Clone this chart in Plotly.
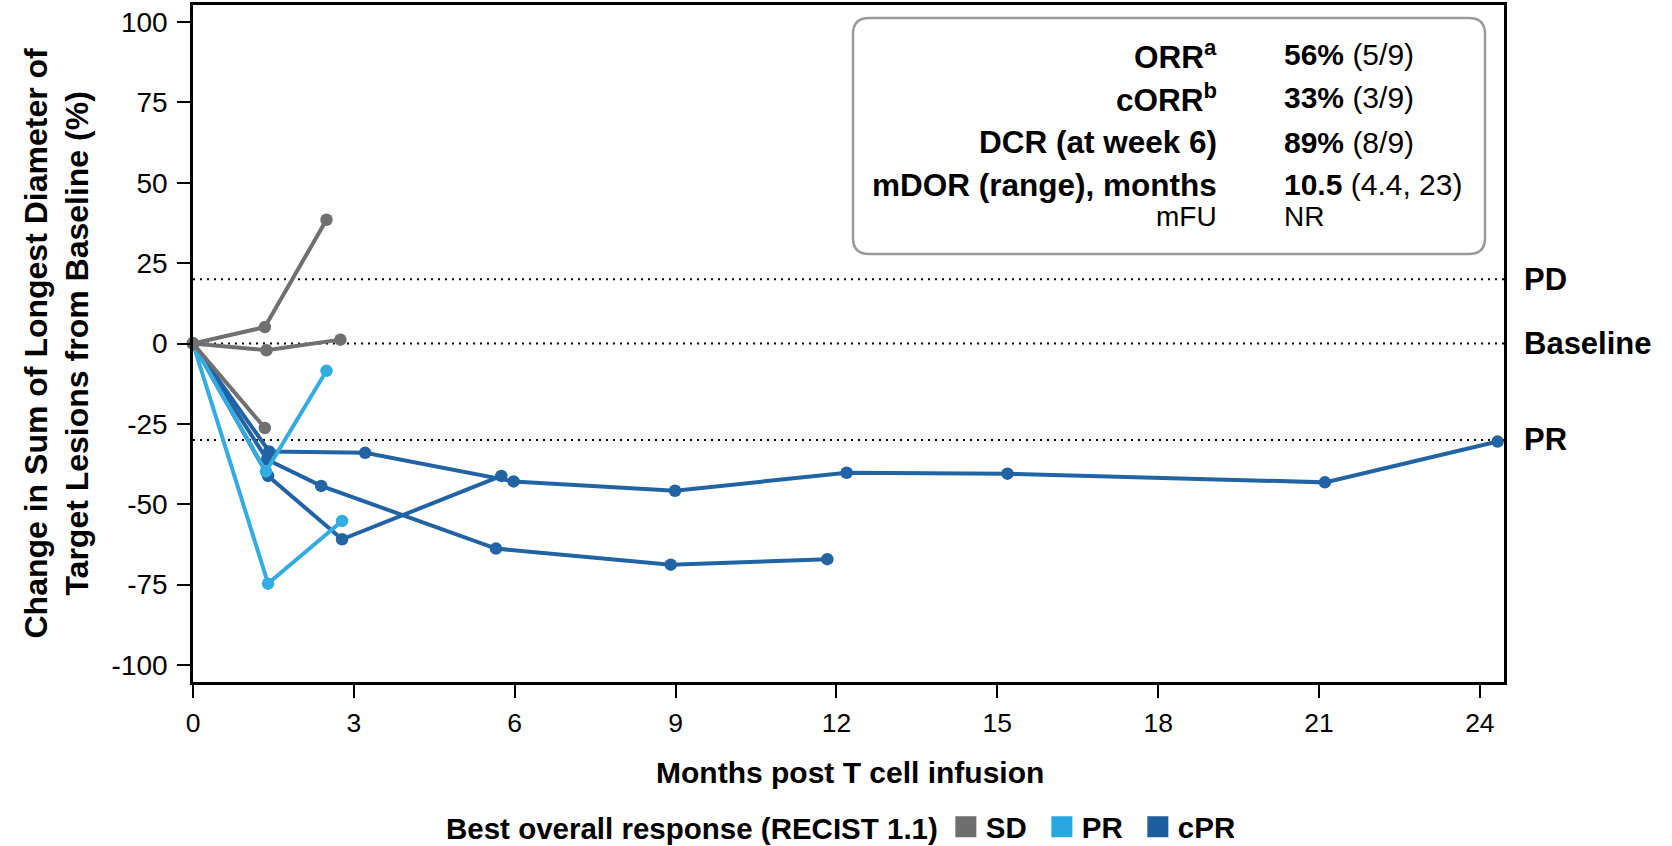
import plotly.graph_objects as go

# ---------------- data ----------------
sd_x = [[0, 1.34, 2.49], [0, 1.37, 2.75], [0, 1.34]]
sd_y = [[0, 5.1, 38.5], [0, -2.1, 1.2], [0, -26.3]]

pr_x = [[0, 1.36, 2.49], [0, 1.40, 2.78]]
pr_y = [[0, -39.8, -8.5], [0, -74.7, -55.2]]

cpr_x = [[0, 1.42, 3.21, 5.98, 8.99, 12.19, 15.19, 21.11, 24.33],
         [0, 1.40, 2.78, 5.75],
         [0, 1.38, 2.39, 5.65, 8.91, 11.83]]
cpr_y = [[0, -33.6, -34.0, -42.9, -45.8, -40.2, -40.5, -43.2, -30.5],
         [0, -41.2, -60.9, -41.2],
         [0, -36.1, -44.3, -63.8, -68.8, -67.1]]

x_ticks = [0, 3, 6, 9, 12, 15, 18, 21, 24]
y_ticks = [100, 75, 50, 25, 0, -25, -50, -75, -100]

ref_values = [20, 0, -30]
ref_labels = ["PD", "Baseline", "PR"]

groups = ["SD", "PR", "cPR"]
group_colors = {"SD": "#707070", "PR": "#33ace1", "cPR": "#2163a3"}
legend_colors = {"SD": "#6e6e6e", "PR": "#29a8e0", "cPR": "#1d5e9e"}

box_labels = ["ORR<sup>a</sup>", "cORR<sup>b</sup>", "DCR (at week 6)", "mDOR (range), months"]
box_values_bold = ["56%", "33%", "89%", "10.5"]
box_values_rest = ["(5/9)", "(3/9)", "(8/9)", "(4.4, 23)"]
mfu_label, mfu_value = "mFU", "NR"

FONT = "Liberation Sans, Arial, sans-serif"

# ---------------- geometry helpers ----------------
W, H = 1672, 846
L, R, T, B = 193, 1504, 5, 682
PW, PH = R - L, B - T


def px_x(px):
    return (px - L) / PW


def px_y(py):
    return (B - py) / PH


fig = go.Figure()

series = [("cPR", cpr_x, cpr_y), ("PR", pr_x, pr_y), ("SD", sd_x, sd_y)]
for g, xs, ys in series:
    for xv, yv in zip(xs, ys):
        fig.add_trace(go.Scatter(
            x=xv, y=yv, mode="lines+markers",
            line=dict(color=group_colors[g], width=4),
            marker=dict(color=group_colors[g], size=12.5),
            showlegend=False, cliponaxis=False, hoverinfo="skip"))

for g in groups:
    fig.add_trace(go.Scatter(
        x=[None], y=[None], mode="markers", name=f"<b>{g}</b>",
        marker=dict(symbol="square", size=16, color=legend_colors[g],
                    line=dict(color=legend_colors[g], width=5)),
        showlegend=True))

# reference lines
for v, lab in zip(ref_values, ref_labels):
    fig.add_shape(type="line", xref="paper", yref="y", x0=0, x1=1, y0=v, y1=v,
                  line=dict(color="black", width=2, dash="2px,5px"), layer="below")
    fig.add_annotation(xref="paper", yref="y", x=1, y=v, text=f"<b>{lab}</b>",
                       showarrow=False, xanchor="left", yanchor="middle", xshift=18,
                       font=dict(family=FONT, size=31, color="black"))

# rounded info box
bx0, bx1 = px_x(853), px_x(1485)
by0, by1 = px_y(18), px_y(254)
rx, ry = 16 / PW, 16 / PH
path = (f"M {bx0+rx},{by0} L {bx1-rx},{by0} Q {bx1},{by0} {bx1},{by0-ry} "
        f"L {bx1},{by1+ry} Q {bx1},{by1} {bx1-rx},{by1} "
        f"L {bx0+rx},{by1} Q {bx0},{by1} {bx0},{by1+ry} "
        f"L {bx0},{by0-ry} Q {bx0},{by0} {bx0+rx},{by0} Z")
fig.add_shape(type="path", xref="paper", yref="paper", path=path,
              line=dict(color="#9a9a9a", width=2.5), fillcolor="white", layer="above")

row_y = [55, 98, 142, 185]
for lab, vb, vr, ry_ in zip(box_labels, box_values_bold, box_values_rest, row_y):
    fig.add_annotation(xref="paper", yref="paper", x=px_x(1219), y=px_y(ry_),
                       text=f"<b>{lab}</b>", showarrow=False, xanchor="right",
                       yanchor="middle", font=dict(family=FONT, size=31.5, color="black"))
    fig.add_annotation(xref="paper", yref="paper", x=px_x(1282), y=px_y(ry_),
                       text=f"<b>{vb}</b> {vr}", showarrow=False, xanchor="left",
                       yanchor="middle", font=dict(family=FONT, size=30, color="black"))
fig.add_annotation(xref="paper", yref="paper", x=px_x(1219), y=px_y(216),
                   text=mfu_label, showarrow=False, xanchor="right", yanchor="middle",
                   font=dict(family=FONT, size=28, color="black"))
fig.add_annotation(xref="paper", yref="paper", x=px_x(1282), y=px_y(216),
                   text=mfu_value, showarrow=False, xanchor="left", yanchor="middle",
                   font=dict(family=FONT, size=28, color="black"))

# axis titles
fig.add_annotation(xref="paper", yref="paper", x=px_x(56), y=0.5,
                   text="<b>Change in Sum of Longest Diameter of<br>Target Lesions from Baseline (%)</b>",
                   textangle=-90, showarrow=False, xanchor="center", yanchor="middle",
                   font=dict(family=FONT, size=32, color="black"))
fig.add_annotation(xref="paper", yref="paper", x=px_x(850), y=px_y(772),
                   text="<b>Months post T cell infusion</b>", showarrow=False,
                   xanchor="center", yanchor="middle",
                   font=dict(family=FONT, size=30, color="black"))

fig.update_layout(
    width=W, height=H,
    margin=dict(l=L, r=W - R, t=T, b=H - B, pad=0, autoexpand=False),
    paper_bgcolor="white", plot_bgcolor="white",
    font=dict(family=FONT, color="black"),
    showlegend=True,
    legend=dict(orientation="h", xref="container", yref="container",
                x=444 / W, xanchor="left", y=1 - 827 / H, yanchor="middle",
                title=dict(text="<b>Best overall response (RECIST 1.1)</b>",
                           font=dict(family=FONT, size=29.5, color="black")),
                font=dict(family=FONT, size=29.5, color="black"),
                entrywidth=51, entrywidthmode="pixels",
                itemsizing="trace", traceorder="normal", bgcolor="rgba(0,0,0,0)"),
)
fig.update_xaxes(range=[0, 24.45], tickvals=x_ticks, ticktext=[str(t) for t in x_ticks],
                 showline=True, linecolor="black", linewidth=2.5, mirror=True,
                 ticks="outside", ticklen=13, tickwidth=2, tickcolor="black",
                 showgrid=False, zeroline=False, ticklabelstandoff=2,
                 tickfont=dict(family=FONT, size=26.5, color="black"))
fig.update_yaxes(range=[-105.3, 105.3], tickvals=y_ticks, ticktext=[str(t) for t in y_ticks],
                 showline=True, linecolor="black", linewidth=2.5, mirror=True,
                 ticks="outside", ticklen=13, tickwidth=2, tickcolor="black",
                 showgrid=False, zeroline=False, ticklabelstandoff=4,
                 tickfont=dict(family=FONT, size=28, color="black"))

fig.write_html("out.html")
